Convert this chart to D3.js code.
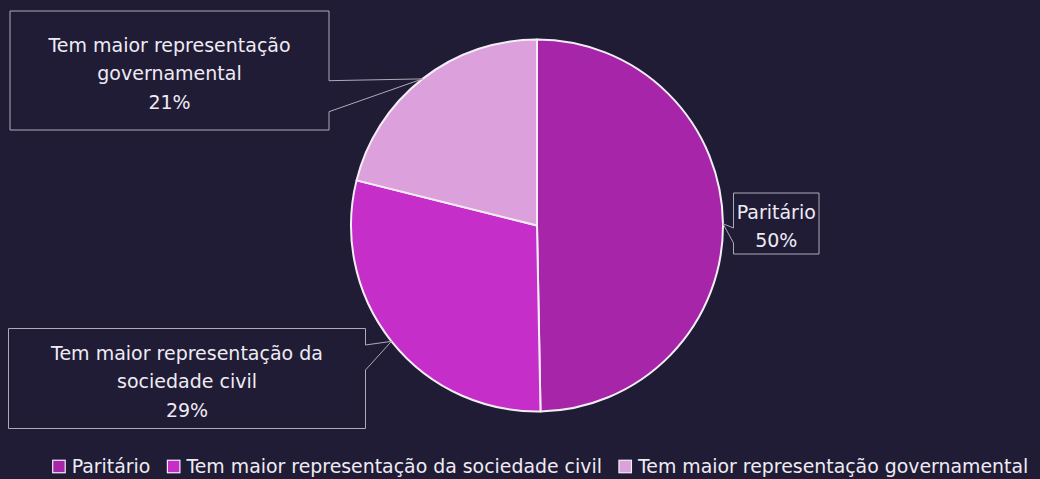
<!DOCTYPE html>
<html>
<head>
<meta charset="utf-8">
<script src="https://cdn.jsdelivr.net/npm/d3@7/dist/d3.min.js"></script>
<style>
  html, body { margin: 0; padding: 0; background: #201c36; }
  svg { display: block; }
  text { font-family: "DejaVu Sans", sans-serif; fill: #efebf3; }
</style>
</head>
<body>
<svg id="chart" width="1040" height="479"></svg>
<script>
// ---- data ----
const categories = ["Paritário", "Tem maior representação da sociedade civil", "Tem maior representação governamental"];
const values = [49.7, 29.2, 21.1];
const colors = ["#a625a9", "#c52ec9", "#dca1dd"];

// ---- layout ----
const W = 1040, H = 479;
const cx = 537, cy = 225.5, R = 186;
const fontSize = 19.0;
const legendFont = 18.9;
const lineGap = 28.5;
// callout boxes (layout only): x, y, w, h, pointer side, pointer base positions
const boxes = [
  {x: 733.5, y: 193, w: 85.5, h: 61, side: "left", b1: 228, b2: 243},
  {x: 8.5, y: 328.5, w: 357, h: 100, side: "right", b1: 345, b2: 370},
  {x: 10, y: 11, w: 319, h: 119, side: "right", b1: 80.7, b2: 111.7}
];

const svg = d3.select("#chart");
svg.append("rect").attr("width", W).attr("height", H).attr("fill", "#201c36");

const total = d3.sum(values);
const pie = d3.pie().sort(null).value(d => d.v).startAngle(0).endAngle(2 * Math.PI);
const data = pie(categories.map((c, i) => ({c, v: values[i], i})));
const arc = d3.arc().innerRadius(0).outerRadius(R);
const edge = d3.arc().innerRadius(R).outerRadius(R);
const color = d3.scaleOrdinal().domain(categories).range(colors);
const pct = d3.format(".0%");

const g = svg.append("g").attr("transform", `translate(${cx},${cy})`);
g.selectAll("path.slice").data(data).join("path")
  .attr("class", "slice")
  .attr("d", arc)
  .attr("fill", d => color(d.data.c))
  .attr("stroke", "#f3eef5")
  .attr("stroke-width", 2)
  .attr("stroke-linejoin", "round");

// callouts
const lg = svg.append("g");
data.forEach((d, i) => {
  const b = boxes[i];
  const [px, py] = edge.centroid(d);
  const tx = cx + px, ty = cy + py;
  let p;
  if (b.side === "right") {
    const xr = b.x + b.w;
    p = `M${b.x},${b.y}H${xr}V${b.b1}L${tx},${ty}L${xr},${b.b2}V${b.y + b.h}H${b.x}Z`;
  } else {
    p = `M${b.x + b.w},${b.y}H${b.x}V${b.b1}L${tx},${ty}L${b.x},${b.b2}V${b.y + b.h}H${b.x + b.w}Z`;
  }
  lg.append("path").attr("d", p)
    .attr("fill", "#201c36")
    .attr("stroke", "#aeabb8")
    .attr("stroke-width", 1);

  // wrap category text inside the box
  const maxW = b.w - 30;
  const words = d.data.c.split(" ");
  const tmp = lg.append("text").attr("font-size", fontSize);
  const lines = [];
  let cur = "";
  words.forEach(w => {
    const test = cur ? cur + " " + w : w;
    tmp.text(test);
    if (tmp.node().getComputedTextLength() > maxW && cur) {
      lines.push(cur);
      cur = w;
    } else cur = test;
  });
  if (cur) lines.push(cur);
  tmp.remove();
  lines.push(pct(d.data.v / total));

  const bx = b.x + b.w / 2, bc = b.y + b.h / 2 + 9.5;
  const n = lines.length;
  const t = lg.append("text").attr("font-size", fontSize).attr("text-anchor", "middle");
  lines.forEach((ln, k) => {
    t.append("tspan").attr("x", bx).attr("y", bc + (k - (n - 1) / 2) * lineGap).text(ln);
  });
});

// legend
const leg = svg.append("g");
const sq = 12.5, gapText = 6.5, gapItem = 17;
let xpos = 0;
categories.forEach((c, i) => {
  const it = leg.append("g");
  it.append("rect").attr("x", 0).attr("y", -sq / 2).attr("width", sq).attr("height", sq)
    .attr("fill", color(c)).attr("stroke", "#f3eef5").attr("stroke-width", 1.2);
  const tx = it.append("text").attr("x", sq + gapText).attr("y", 6.8)
    .attr("font-size", legendFont).text(c);
  const w = sq + gapText + tx.node().getComputedTextLength();
  it.attr("transform", `translate(${xpos},0)`);
  xpos += w + gapItem;
});
const legW = xpos - gapItem;
leg.attr("transform", `translate(${540.5 - legW / 2},466.5)`);
</script>
</body>
</html>
